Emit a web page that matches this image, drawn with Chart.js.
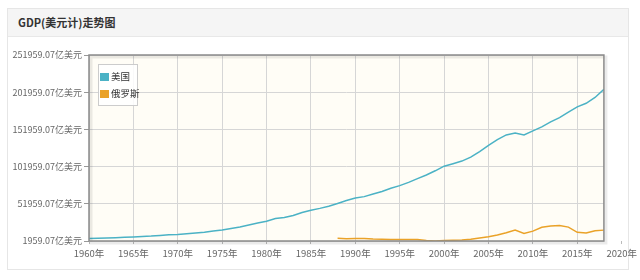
<!DOCTYPE html>
<html>
<head>
<meta charset="utf-8">
<script src="https://cdn.jsdelivr.net/npm/chart.js@4"></script>
<style>
  body { margin: 0; background: #fff; font-family: "Noto Sans CJK SC", sans-serif; }
  #panel { position: absolute; left: 7px; top: 8px; width: 620px; height: 260px; border: 1px solid #e6e6e6; }
  #head { height: 27px; background: #f5f5f5; border-bottom: 1px solid #e8e8e8; font-size: 11px; font-weight: bold; color: #333; line-height: 27px; padding-left: 10px; }
  #wrap { position: absolute; left: 0; top: 0; width: 640px; height: 280px; }
  #legend { position: absolute; left: 98px; top: 64px; width: 37px; padding: 3px 0 3px 1px; border: 1px solid #ccc; background: rgba(255,255,255,0.85); font-size: 9.5px; color: #333; }
  #legend div { height: 17px; line-height: 17px; white-space: nowrap; }
  #legend span { display: inline-block; width: 9px; height: 8px; margin-right: 2px; vertical-align: -1px; }
</style>
</head>
<body>
<div id="panel"><div id="head">GDP(美元计)走势图</div></div>
<div id="wrap"><canvas id="gdp" width="640" height="280"></canvas></div>
<div id="legend">
  <div><span style="background:#4bb2c5"></span>美国</div>
  <div><span style="background:#eaa228"></span>俄罗斯</div>
</div>
<script>
/****************** DONNEES **********************/

// GDP en 亿美元
var usYears = [1960,1961,1962,1963,1964,1965,1966,1967,1968,1969,
               1970,1971,1972,1973,1974,1975,1976,1977,1978,1979,
               1980,1981,1982,1983,1984,1985,1986,1987,1988,1989,
               1990,1991,1992,1993,1994,1995,1996,1997,1998,1999,
               2000,2001,2002,2003,2004,2005,2006,2007,2008,2009,
               2010,2011,2012,2013,2014,2015,2016,2017,2018];
var usGdp = [5433,5633,6051,6386,6858,7437,8150,8617,9425,10199,
             10733,11649,12791,13854,15452,16849,18734,20818,23516,26273,
             28573,32070,33438,36340,40376,43390,45796,48552,52364,56416,
             59631,61581,65203,68586,72872,76397,80731,85776,90628,96312,
             102510,105818,109364,114582,122137,130366,138146,144519,147128,144489,
             149921,155426,161970,167849,175217,182193,187072,194854,205802];

var ruYears = [1988,1989,1990,1991,1992,1993,1994,1995,1996,1997,
               1998,1999,2000,2001,2002,2003,2004,2005,2006,2007,
               2008,2009,2010,2011,2012,2013,2014,2015,2016,2017,2018];
var ruGdp = [5547,5065,5168,5180,4602,4351,3951,3955,3917,4049,
             2710,1959,2597,3066,3455,4303,5910,7640,9899,12997,
             16608,12226,15249,20459,22083,22925,20592,13635,12768,15742,16576];

var yTicks = [1959.07,51959.07,101959.07,151959.07,201959.07,251959.07];
var xTicks = [1960,1965,1970,1975,1980,1985,1990,1995,2000,2005,2010,2015,2020];

/****************** FONCTION **********************/

function toPoints(years, values)
{
    return years.map(function (y, i) { return { x: y, y: values[i] }; });
}

// fond crème + cadre du graphe
var plotFrame = {
    id: 'plotFrame',
    beforeDraw: function (chart) {
        var a = chart.chartArea, ctx = chart.ctx;
        ctx.save();
        ctx.fillStyle = '#fffdf6';
        ctx.fillRect(a.left, a.top, a.right - a.left, a.bottom - a.top);
        ctx.restore();
    },
    afterDatasetsDraw: function (chart) {
        var a = chart.chartArea, ctx = chart.ctx;
        ctx.save();
        ctx.strokeStyle = 'rgba(0,0,0,0.08)';
        ctx.lineWidth = 3;
        ctx.strokeRect(a.left + 2, a.top + 2, a.right - a.left, a.bottom - a.top);
        ctx.strokeStyle = '#8a8a8a';
        ctx.lineWidth = 1.5;
        ctx.strokeRect(a.left, a.top, a.right - a.left, a.bottom - a.top);
        ctx.restore();
    }
};

function makeGdpChart()
{
    var ctx = document.getElementById('gdp').getContext('2d');
    new Chart(ctx, {
        type: 'line',
        data: {
            datasets: [{
                label: '美国',
                data: toPoints(usYears, usGdp),
                borderColor: '#4bb2c5',
                borderWidth: 1.5,
                pointRadius: 0,
                tension: 0
            }, {
                label: '俄罗斯',
                data: toPoints(ruYears, ruGdp),
                borderColor: '#eaa228',
                borderWidth: 1.5,
                pointRadius: 0,
                tension: 0
            }]
        },
        options: {
            responsive: false,
            animation: false,
            layout: { padding: { left: 0, top: 55, right: 28, bottom: 17 } },
            plugins: { legend: { display: false }, tooltip: { enabled: false } },
            scales: {
                x: {
                    type: 'linear',
                    min: 1960,
                    max: 2018,
                    afterBuildTicks: function (scale) {
                        scale.ticks = xTicks.map(function (v) { return { value: v }; });
                    },
                    afterFit: function (scale) { scale.height = 22; },
                    grid: {
                        color: function (c) { return c.tick && c.tick.value > 2018 ? 'transparent' : '#d6d6d6'; },
                        tickColor: '#bbb',
                        tickLength: 3
                    },
                    border: { display: false },
                    ticks: {
                        autoSkip: false,
                        maxRotation: 0,
                        padding: 4,
                        color: '#666',
                        font: { family: '"Noto Sans CJK SC"', size: 9.5 },
                        callback: function (v) { return v + '年'; }
                    }
                },
                y: {
                    min: 1959.07,
                    max: 251959.07,
                    afterBuildTicks: function (scale) {
                        scale.ticks = yTicks.map(function (v) { return { value: v }; });
                    },
                    afterFit: function (scale) { scale.width = 89; },
                    grid: { color: '#d6d6d6', tickColor: '#999', tickLength: 5 },
                    border: { display: false },
                    ticks: {
                        padding: 2,
                        color: '#666',
                        font: { family: '"Noto Sans CJK SC"', size: 9 },
                        callback: function (v) { return v.toFixed(2) + '亿美元'; }
                    }
                }
            }
        },
        plugins: [plotFrame]
    });
}

makeGdpChart();
</script>
</body>
</html>
